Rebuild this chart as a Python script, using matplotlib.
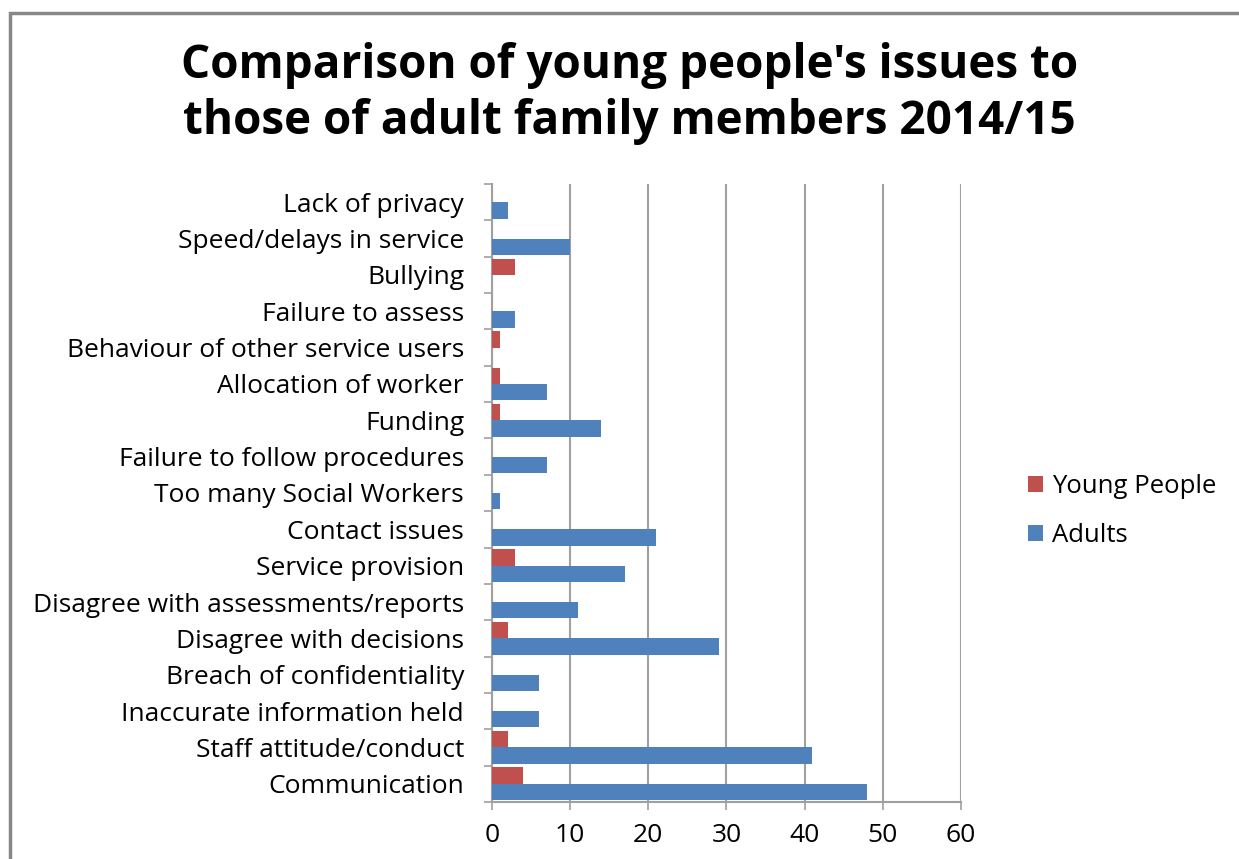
import matplotlib.pyplot as plt
import numpy as np
from matplotlib.patches import Rectangle

plt.rcParams['font.family'] = ['Open Sans', 'DejaVu Sans']

# categories listed bottom to top
categories = ['Communication', 'Staff attitude/conduct', 'Inaccurate information held',
              'Breach of confidentiality', 'Disagree with decisions',
              'Disagree with assessments/reports', 'Service provision', 'Contact issues',
              'Too many Social Workers', 'Failure to follow procedures', 'Funding',
              'Allocation of worker', 'Behaviour of other service users',
              'Failure to assess', 'Bullying', 'Speed/delays in service', 'Lack of privacy']
young = [4, 2, 0, 0, 2, 0, 3, 0, 0, 0, 1, 1, 1, 0, 3, 0, 0]
adults = [48, 41, 6, 6, 29, 11, 17, 21, 1, 7, 14, 7, 0, 3, 0, 10, 2]

red = '#C0504D'
blue = '#4F81BD'
grey = '#A0A0A0'

fig = plt.figure(figsize=(12.39, 8.59), dpi=100)
ax = fig.add_axes([0.397, 0.0664, 0.3786, 0.7194])

y = np.arange(len(categories))
h = 0.45
ax.barh(y + h / 2, young, height=h, color=red, label='Young People', zorder=3)
ax.barh(y - h / 2, adults, height=h, color=blue, label='Adults', zorder=3)

ax.set_xlim(0, 60)
ax.set_ylim(-0.5, len(categories) - 0.5)
ax.set_xticks(range(0, 61, 10))
ax.xaxis.grid(True, color=grey, linewidth=1.5, zorder=0)
ax.tick_params(axis='x', length=6, width=1.2, color=grey, labelsize=19, pad=9)

ax.set_yticks(y)
ax.set_yticklabels(categories, fontsize=19)
ax.set_yticks(np.arange(-0.5, len(categories)), minor=True)
ax.tick_params(axis='y', which='major', length=0, pad=20)
ax.tick_params(axis='y', which='minor', length=6, width=1.2, color=grey)

for side in ['top', 'right']:
    ax.spines[side].set_visible(False)
for side in ['left', 'bottom']:
    ax.spines[side].set_color(grey)
    ax.spines[side].set_linewidth(1.5)

handles, labels = ax.get_legend_handles_labels()
fig.legend(handles, labels, loc='center left', bbox_to_anchor=(0.811, 0.405),
           frameon=False, fontsize=18.5, handlelength=0.6, handleheight=0.6,
           handletextpad=0.35, labelspacing=0.95)

fig.text(0.508, 0.891, "Comparison of young people's issues to\nthose of adult family members 2014/15",
         ha='center', va='center', fontsize=33, fontweight='bold', linespacing=1.25)

# outer chart border
fig.patches.append(Rectangle((10 / 1239, -0.1), 1.2, 1 - 13 / 859 + 0.1,
                             transform=fig.transFigure, fill=False,
                             edgecolor='#888888', linewidth=2.5))

fig.savefig('out.png', dpi=100, facecolor='white')
